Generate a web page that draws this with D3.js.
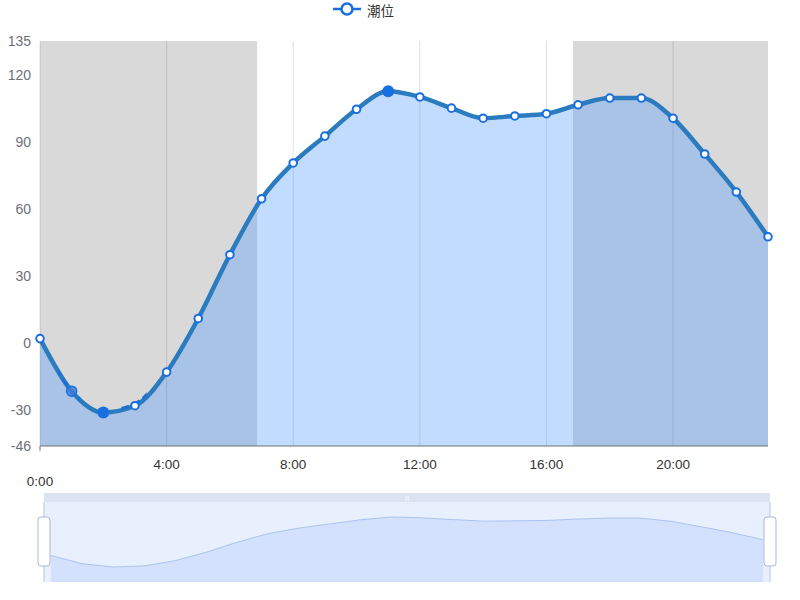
<!DOCTYPE html>
<html><head><meta charset="utf-8">
<script src="https://cdn.jsdelivr.net/npm/d3@7"></script>
<style>html,body{margin:0;padding:0;background:#fff;}svg{display:block;font-family:"Liberation Sans","Noto Sans CJK SC",sans-serif;}</style>
</head><body>
<svg id="c" width="800" height="600"></svg>
<script>
const hours = [0,1,2,3,4,5,6,7,8,9,10,11,12,13,14,15,16,17,18,19,20,21,22,23];
const tide = [2,-21.5,-31,-28,-13,11,39.5,64.5,80.5,92.5,104.5,112.5,110,105,100.5,101.5,102.5,106.5,109.5,109.5,100.5,84.5,67.5,47.5];
const xTickHours = [0,4,8,12,16,20];
const xTickLabels = ["0:00","4:00","8:00","12:00","16:00","20:00"];
const yTickValues = [-46,-30,0,30,60,90,120,135];
const bandStart = [0,16.84];
const bandEnd = [6.86,23];
const highlightFilled = [2,11];
const highlightSoft = [1];
const seriesName = "潮位";

const svg = d3.select("#c");
const x = d3.scaleLinear().domain([0,23]).range([40,768]);
const y = d3.scaleLinear().domain([-46,135]).range([446,41]);
const yTop = y(135), yBot = y(-46);

// vertical grid lines
svg.append("g").selectAll("line").data(xTickHours).join("line")
  .attr("x1",d=>x(d)).attr("x2",d=>x(d)).attr("y1",yTop).attr("y2",yBot)
  .attr("stroke","#e0e0e0").attr("stroke-width",1);

// mark areas
svg.append("g").selectAll("rect").data(bandStart).join("rect")
  .attr("x",(d)=>x(d)).attr("width",(d,i)=>x(bandEnd[i])-x(d))
  .attr("y",yTop).attr("height",yBot-yTop)
  .attr("fill","rgba(0,0,0,0.15)");

const pts = hours.map((h,i)=>[h,tide[i]]);
// area
const area = d3.area().x(d=>x(d[0])).y0(yBot).y1(d=>y(d[1])).curve(d3.curveMonotoneX);
svg.append("path").attr("d",area(pts)).attr("fill","#4f9bff").attr("fill-opacity",0.35);

// line
const line = d3.line().x(d=>x(d[0])).y(d=>y(d[1])).curve(d3.curveMonotoneX);
svg.append("path").attr("d",line(pts)).attr("fill","none").attr("stroke","#2b7bbf").attr("stroke-width",4.5).attr("stroke-linejoin","round");

// emphasis fragments
const defs = svg.append("defs");
[[0.6,1.3],[2.6,3.4]].forEach((r,i)=>{
  defs.append("clipPath").attr("id","cp"+i).append("rect")
    .attr("x",x(r[0])).attr("width",x(r[1])-x(r[0])).attr("y",yTop).attr("height",yBot-yTop);
  svg.append("path").attr("d",line(pts)).attr("fill","none").attr("stroke","#1f6fd6")
    .attr("stroke-width",3).attr("stroke-dasharray","8,4").attr("clip-path","url(#cp"+i+")")
    .attr("transform","translate(-1,-1.5)");
});

// x axis
svg.append("line").attr("x1",x(0)).attr("x2",x(23)).attr("y1",yBot).attr("y2",yBot).attr("stroke","#6e7079").attr("stroke-width",1);
svg.append("line").attr("x1",x(0)).attr("x2",x(0)).attr("y1",yBot).attr("y2",yBot+5).attr("stroke","#6e7079");
svg.append("g").selectAll("text").data(xTickHours).join("text")
  .attr("x",d=>x(d)).attr("y",(d,i)=>i===0?486:469)
  .attr("text-anchor","middle").attr("font-size",13.5).attr("fill","#333")
  .text((d,i)=>xTickLabels[i]);

// y labels
svg.append("g").selectAll("text").data(yTickValues).join("text")
  .attr("x",31).attr("y",d=>y(d)+5).attr("text-anchor","end").attr("font-size",14).attr("fill","#6e7079")
  .text(d=>d);

// points
svg.append("g").selectAll("circle").data(pts.filter(p=>!highlightFilled.includes(p[0])&&!highlightSoft.includes(p[0]))).join("circle")
  .attr("cx",d=>x(d[0])).attr("cy",d=>y(d[1])).attr("r",3.8)
  .attr("fill","#fff").attr("stroke","#1a6fe0").attr("stroke-width",2);
svg.append("g").selectAll("circle").data(pts.filter(p=>highlightSoft.includes(p[0]))).join("circle")
  .attr("cx",d=>x(d[0])).attr("cy",d=>y(d[1])).attr("r",5)
  .attr("fill","#3f7fd8").attr("fill-opacity",0.8).attr("stroke","#1a6fe0").attr("stroke-width",1.5);
svg.append("g").selectAll("circle").data(pts.filter(p=>highlightFilled.includes(p[0]))).join("circle")
  .attr("cx",d=>x(d[0])).attr("cy",d=>y(d[1])).attr("r",6)
  .attr("fill","#1a6fe0");

// legend
const lg = svg.append("g");
lg.append("line").attr("x1",333).attr("x2",361).attr("y1",9).attr("y2",9).attr("stroke","#1a6fe0").attr("stroke-width",2.5);
lg.append("circle").attr("cx",347).attr("cy",9).attr("r",5.5).attr("fill","#fff").attr("stroke","#1a6fe0").attr("stroke-width",2.5);
lg.append("text").attr("x",367).attr("y",16).attr("font-size",13.5).attr("fill","#333")
  .attr("font-family","Noto Sans CJK SC").text(seriesName);

// data zoom slider
const sx = d3.scaleLinear().domain([0,23]).range([51,763]);
const sy = d3.scaleLinear().domain(d3.extent(tide)).range([567,517]);
const sl = svg.append("g");
sl.append("rect").attr("x",44).attr("y",493).attr("width",726).attr("height",9).attr("fill","#dbe2f2");
sl.append("text").attr("x",407).attr("y",500).attr("text-anchor","middle").attr("font-size",6).attr("fill","#fff").text("|||");
sl.append("rect").attr("x",44).attr("y",502).attr("width",726).attr("height",80).attr("fill","#e8effd");
const sArea = d3.area().x(d=>sx(d[0])).y0(582).y1(d=>sy(d[1]));
const sLine = d3.line().x(d=>sx(d[0])).y(d=>sy(d[1]));
sl.append("path").attr("d",sArea(pts)).attr("fill","#d3e1fc");
sl.append("path").attr("d",sLine(pts)).attr("fill","none").attr("stroke","#abc3f1").attr("stroke-width",1);
sl.append("line").attr("x1",44).attr("x2",44).attr("y1",502).attr("y2",582).attr("stroke","#b7c3df");
sl.append("line").attr("x1",770).attr("x2",770).attr("y1",502).attr("y2",582).attr("stroke","#b7c3df");
[44,770].forEach(cx=>{
  sl.append("rect").attr("x",cx-6).attr("y",517).attr("width",12).attr("height",49).attr("rx",3)
    .attr("fill","#fff").attr("stroke","#acb8d1").attr("stroke-width",1);
});
</script>
</body></html>
